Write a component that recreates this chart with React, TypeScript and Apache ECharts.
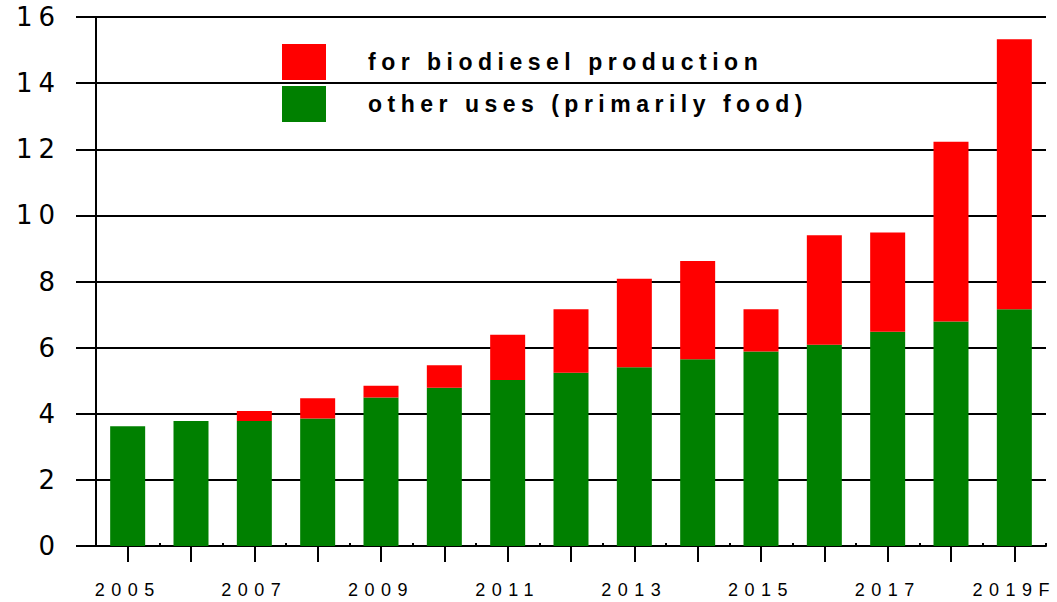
import React, { useEffect, useRef } from 'react';
import * as echarts from 'echarts';

const categories = ['2005', '2006', '2007', '2008', '2009', '2010', '2011', '2012', '2013', '2014', '2015', '2016', '2017', '2018', '2019F'];
const otherUses = [3.62, 3.78, 3.78, 3.86, 4.49, 4.79, 5.02, 5.24, 5.41, 5.65, 5.88, 6.09, 6.48, 6.79, 7.16];
const biodiesel = [0, 0, 0.3, 0.61, 0.36, 0.68, 1.37, 1.92, 2.67, 2.97, 1.28, 3.31, 3.0, 5.44, 8.17];
const yMin = 0;
const yMax = 16;
const yStep = 2;

export default function App() {
  const ref = useRef<HTMLDivElement>(null);
  useEffect(() => {
    if (!ref.current) return;
    const chart = echarts.init(ref.current, undefined, { renderer: 'svg' });
    const black = '#000000';
    chart.setOption({
      animation: false,
      backgroundColor: '#ffffff',
      grid: { left: 96, right: 11, top: 17, bottom: 56, containLabel: false },
      legend: {
        orient: 'vertical',
        left: 282,
        top: 44,
        padding: 0,
        itemWidth: 44,
        itemHeight: 36,
        itemGap: 6,
        icon: 'rect',
        data: ['for biodiesel production', 'other uses (primarily food)'],
        textStyle: {
          fontSize: 23,
          fontWeight: 'bold',
          fontFamily: 'Liberation Sans',
          color: black,
          padding: [0, 0, 0, 37],
        },
      },
      xAxis: [
        {
          type: 'category',
          data: categories,
          position: 'bottom',
          axisLine: { show: true, lineStyle: { color: black, width: 2 } },
          axisTick: { show: true, alignWithLabel: true, interval: 0, length: 16, lineStyle: { color: black, width: 2 } },
          axisLabel: { interval: 1, margin: 35, fontSize: 18, fontFamily: 'Liberation Sans', color: black },
          splitLine: { show: false },
        },
        {
          type: 'category',
          data: categories,
          position: 'top',
          offset: -529,
          axisLine: { show: false },
          axisTick: { show: true, interval: 0, length: 3, lineStyle: { color: black, width: 2 } },
          axisLabel: { show: false },
          splitLine: { show: false },
        },
      ],
      yAxis: {
        type: 'value',
        min: yMin,
        max: yMax,
        interval: yStep,
        axisLine: { show: true, lineStyle: { color: black, width: 2 } },
        axisTick: { show: true, length: 20, lineStyle: { color: black, width: 2 } },
        axisLabel: { margin: 35, fontSize: 26, fontFamily: 'DejaVu Sans', color: black },
        splitLine: { show: true, lineStyle: { color: black, width: 2 } },
      },
      series: [
        {
          name: 'other uses (primarily food)',
          type: 'bar',
          stack: 'total',
          data: otherUses,
          barWidth: 35,
          itemStyle: { color: '#008000' },
        },
        {
          name: 'for biodiesel production',
          type: 'bar',
          stack: 'total',
          data: biodiesel,
          barWidth: 35,
          itemStyle: { color: '#FF0000' },
        },
      ],
    });
    return () => chart.dispose();
  }, []);

  const css = `
    #chart-holder text[style*="26px"] { letter-spacing: 6px; }
    #chart-holder text[style*="18px"] { letter-spacing: 6.5px; }
    #chart-holder text[style*="23px"] { letter-spacing: 5.5px; }
  `;

  return (
    <>
      <style>{css}</style>
      <div
        id="chart-holder"
        ref={ref}
        style={{ position: 'absolute', left: 0, top: 0, width: 1057, height: 602 }}
      />
    </>
  );
}
